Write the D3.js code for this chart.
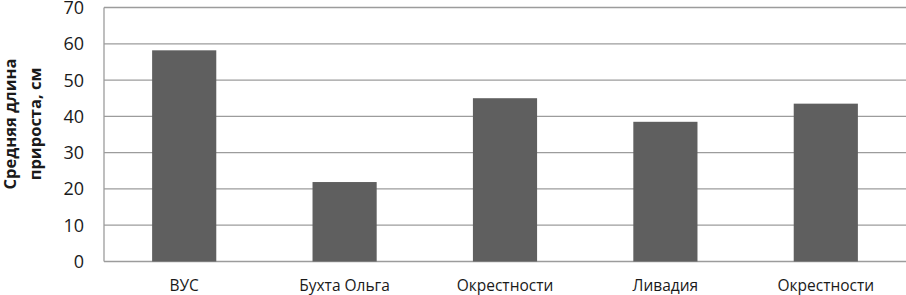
<!DOCTYPE html>
<html>
<head>
<meta charset="utf-8">
<script src="https://cdn.jsdelivr.net/npm/d3@7"></script>
<style>
  body { margin: 0; background: #fff; }
</style>
</head>
<body>
<div id="chart"></div>
<script>
let categories = ["ВУС", "Бухта Ольга", "Окрестности", "Ливадия", "Окрестности"];
let values = [58.2, 21.9, 45.0, 38.5, 43.5];
let yTicks = [0, 10, 20, 30, 40, 50, 60, 70];
let yTitle = ["Средняя длина", "прироста, см"];

let w = 906;
let h = 295;
let plotLeft = 104, plotRight = 906, plotTop = 7.5, plotBottom = 261.5;

let svg = d3.select("#chart")
  .append("svg")
    .attr("width", w)
    .attr("height", h)
    .style("background-color", "white");

let x = d3.scaleBand()
  .domain(d3.range(categories.length))
  .range([plotLeft, plotRight])
  .paddingInner(0.6)
  .paddingOuter(0.3);

let y = d3.scaleLinear()
  .domain([0, 70])
  .range([plotBottom, plotTop]);

// gridlines
svg.append("g")
  .selectAll("line")
  .data(yTicks)
  .enter()
  .append("line")
    .attr("x1", plotLeft)
    .attr("x2", plotRight)
    .attr("y1", d => y(d))
    .attr("y2", d => y(d))
    .attr("stroke", "#9c9c9c")
    .attr("stroke-width", 1.3);

// left axis line
svg.append("line")
  .attr("x1", plotLeft).attr("x2", plotLeft)
  .attr("y1", y(70)).attr("y2", y(0))
  .attr("stroke", "#9c9c9c")
  .attr("stroke-width", 1.3);

// bars
svg.append("g")
  .selectAll("rect")
  .data(values)
  .enter()
  .append("rect")
    .attr("x", (d, i) => x(i))
    .attr("width", x.bandwidth())
    .attr("y", d => y(d))
    .attr("height", d => y(0) - y(d))
    .attr("fill", "#5f5f5f");

// y tick labels
svg.append("g")
  .selectAll("text")
  .data(yTicks)
  .enter()
  .append("text")
    .text(d => d)
    .attr("x", 84)
    .attr("y", d => y(d))
    .attr("dy", "0.36em")
    .attr("text-anchor", "end")
    .attr("font-family", "Open Sans")
    .attr("font-size", 18)
    .attr("fill", "#1a1a1a");

// category labels
svg.append("g")
  .selectAll("text")
  .data(categories)
  .enter()
  .append("text")
    .text(d => d)
    .attr("x", (d, i) => x(i) + x.bandwidth() / 2)
    .attr("y", 291)
    .attr("text-anchor", "middle")
    .attr("font-family", "Open Sans")
    .attr("font-size", 15.5)
    .attr("fill", "#1a1a1a");

// y title
let title = svg.append("text")
  .attr("transform", "translate(16,124) rotate(-90)")
  .attr("text-anchor", "middle")
  .attr("font-family", "Open Sans")
  .attr("font-weight", "bold")
  .attr("font-size", 16.5)
  .attr("fill", "#1a1a1a");
title.selectAll("tspan")
  .data(yTitle)
  .enter()
  .append("tspan")
    .text(d => d)
    .attr("x", 0)
    .attr("dy", (d, i) => i == 0 ? 0 : 25);
</script>
</body>
</html>
